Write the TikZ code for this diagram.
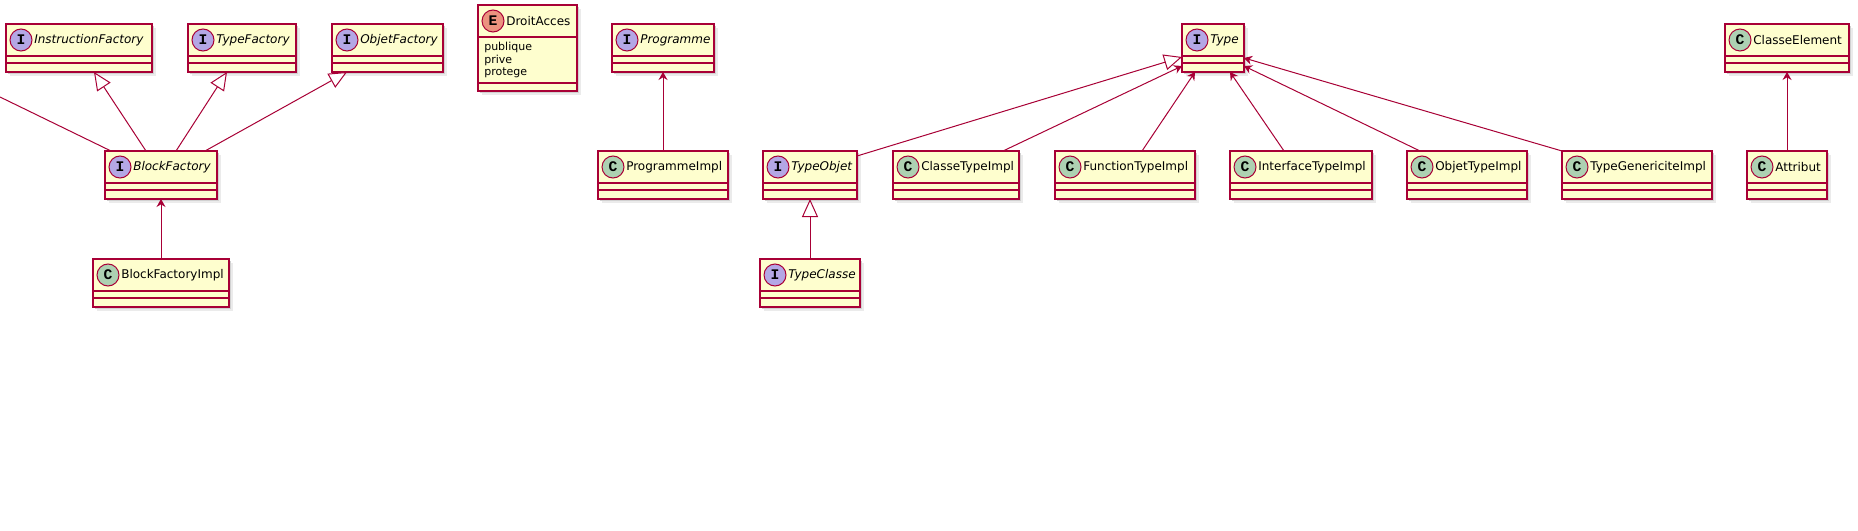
\documentclass[tikz,border=0pt]{standalone}
\usepackage{fontspec}
\setmainfont{DejaVu Sans}
\newfontfamily\iconfont{Liberation Mono}
\usetikzlibrary{arrows.meta,calc}
\definecolor{umlborder}{HTML}{A80036}
\definecolor{umlbg}{HTML}{FEFECE}
\definecolor{ifacecol}{HTML}{B4A7E5}
\definecolor{classcol}{HTML}{ADD1B2}
\definecolor{enumcol}{HTML}{EB937F}
\tikzset{
  umlrect/.style={draw=umlborder, fill=umlbg, line width=1.125pt, rectangle, inner sep=0pt, outer sep=0pt},
  umlsep/.style={draw=umlborder, line width=1.125pt},
  iconnode/.style={circle, draw=umlborder, line width=0.75pt, minimum size=16.5pt, inner sep=0pt,
    font=\iconfont\bfseries\fontsize{11pt}{11pt}\selectfont},
  titlenode/.style={inner sep=0pt, anchor=west, font=\fontsize{9pt}{11pt}\selectfont},
  membernode/.style={inner sep=0pt, anchor=west, font=\fontsize{8.25pt}{10pt}\selectfont},
  edge/.style={draw=umlborder, line width=0.75pt},
  realize/.style={edge, -{Triangle[length=13.5pt,width=12pt,fill=white]}},
  assoc/.style={edge, -{Stealth[length=6pt,width=6.75pt,inset=2pt]}},
}
% name, left, top, right, letter, icon colour, title
\newcommand\umlbox[7]{%
  \fill[black!8] ({#2+4},{#3+4}) rectangle ({#4+4},{#3+52});
  \fill[black!18] ({#2+2},{#3+2}) rectangle ({#4+2},{#3+50});
  \node[umlrect, minimum width={(#4-#2)*0.75pt}, minimum height=36pt, anchor=north west] (#1) at (#2,#3) {};
  \draw[umlsep] (#2,{#3+32}) -- (#4,{#3+32}) (#2,{#3+39}) -- (#4,{#3+39});
  \node[iconnode, fill=#6] (#1-icon) at ({#2+15},{#3+16}) {#5};
  \node[titlenode] (#1-title) at ({#2+28},{#3+16}) {#7};
}
\begin{document}
\begin{tikzpicture}[x=0.75pt,y=-0.75pt]
\fill[white] (0,0) rectangle (1858,531);
\useasboundingbox (0,0) rectangle (1858,531);

\umlbox{InstructionFactory}{6}{24}{152}{I}{ifacecol}{\itshape InstructionFactory}
\umlbox{TypeFactory}{188}{24}{296}{I}{ifacecol}{\itshape TypeFactory}
\umlbox{ObjetFactory}{332}{24}{443}{I}{ifacecol}{\itshape ObjetFactory}
\umlbox{BlockFactory}{105}{151}{217}{I}{ifacecol}{\itshape BlockFactory}
\umlbox{BlockFactoryImpl}{93}{259}{229}{C}{classcol}{BlockFactoryImpl}
\umlbox{Programme}{612}{24}{714}{I}{ifacecol}{\itshape Programme}
\umlbox{ProgrammeImpl}{598}{151}{728}{C}{classcol}{ProgrammeImpl}
\umlbox{TypeObjet}{763}{151}{857}{I}{ifacecol}{\itshape TypeObjet}
\umlbox{TypeClasse}{760}{259}{860}{I}{ifacecol}{\itshape TypeClasse}
\umlbox{ClasseTypeImpl}{893}{151}{1019}{C}{classcol}{ClasseTypeImpl}
\umlbox{Type}{1182}{24}{1244}{I}{ifacecol}{\itshape Type}
\umlbox{FunctionTypeImpl}{1055}{151}{1195}{C}{classcol}{FunctionTypeImpl}
\umlbox{InterfaceTypeImpl}{1230}{151}{1372}{C}{classcol}{InterfaceTypeImpl}
\umlbox{ObjetTypeImpl}{1407}{151}{1527}{C}{classcol}{ObjetTypeImpl}
\umlbox{TypeGenericiteImpl}{1562}{151}{1712}{C}{classcol}{TypeGenericiteImpl}
\umlbox{ClasseElement}{1725}{24}{1849}{C}{classcol}{ClasseElement}
\umlbox{Attribut}{1747}{151}{1827}{C}{classcol}{Attribut}

% enum DroitAcces
\fill[black!8] (482,9) rectangle (581,95);
\fill[black!18] (480,7) rectangle (579,93);
\node[umlrect, minimum width=74.25pt, minimum height=64.5pt, anchor=north west] (DroitAcces) at (478,5) {};
\draw[umlsep] (478,37) -- (577,37) (478,83) -- (577,83);
\node[iconnode, fill=enumcol] (DroitAcces-icon) at (493,21) {E};
\node[titlenode] (DroitAcces-title) at (506,21) {DroitAcces};
\node[membernode] (m1) at (484,47) {publique};
\node[membernode] (m2) at (484,60) {prive};
\node[membernode] (m3) at (484,73) {protege};

% connectors
\coordinate (offleft) at (0,97);
\draw[edge] (offleft) -- ($(BlockFactory.north west)+(6,0)$);
\draw[realize] ($(BlockFactory.north west)+(41,0)$) -- ($(InstructionFactory.south west)+(88,0)$);
\draw[realize] ($(BlockFactory.north west)+(71,0)$) -- ($(TypeFactory.south west)+(39,0)$);
\draw[realize] ($(BlockFactory.north west)+(100,0)$) -- ($(ObjetFactory.south west)+(15,0)$);
\draw[assoc] (BlockFactoryImpl.north) -- (BlockFactory.south);
\draw[assoc] (ProgrammeImpl.north) -- (Programme.south);
\draw[realize] (TypeClasse.north) -- (TypeObjet.south);
\draw[realize] ($(TypeObjet.north east)+(0,5)$) -- ($(Type.south west)+(0,-15)$);
\draw[assoc] ($(ClasseTypeImpl.north east)+(-16,0)$) -- ($(Type.south west)+(0,-6)$);
\draw[assoc] ($(FunctionTypeImpl.north west)+(87,0)$) -- ($(Type.south west)+(13,0)$);
\draw[assoc] ($(InterfaceTypeImpl.north west)+(54,0)$) -- ($(Type.south west)+(48,0)$);
\draw[assoc] ($(ObjetTypeImpl.north west)+(13,0)$) -- ($(Type.south east)+(0,-6)$);
\draw[assoc] (TypeGenericiteImpl.north west) -- ($(Type.south east)+(0,-14)$);
\draw[assoc] (Attribut.north) -- (ClasseElement.south);
\end{tikzpicture}
\end{document}
